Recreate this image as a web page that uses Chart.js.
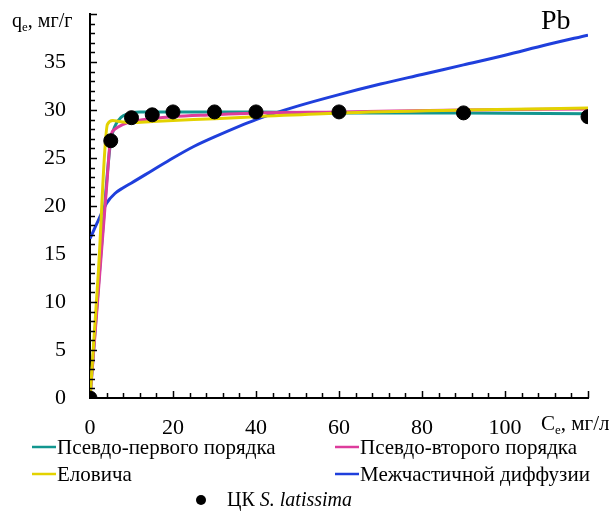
<!DOCTYPE html>
<html>
<head>
<meta charset="utf-8">
<script src="https://cdn.jsdelivr.net/npm/chart.js@4/dist/chart.umd.min.js"></script>
<style>
  html, body { margin: 0; padding: 0; background: #fff; }
  #wrap { width: 616px; height: 513px; }
</style>
</head>
<body>
<div id="wrap"><canvas id="chart" width="616" height="513"></canvas></div>
<script>
// experimental points (Ce, мг/л ; qe, мг/г)
const expC = [0, 5, 10, 15, 20, 30, 40, 60, 90, 120];
const expQ = [0, 26.8, 29.2, 29.5, 29.8, 29.8, 29.8, 29.8, 29.7, 29.3];

// fitted curves
const firstC = [0, 2, 4, 5, 6, 7, 8, 10, 12, 20, 40, 60, 90, 120];
const firstQ = [0, 11.5, 22.5, 26.8, 28.3, 29.0, 29.4, 29.7, 29.8, 29.8, 29.8, 29.7, 29.7, 29.6];

const secondC = [0, 2, 4, 5, 6, 8, 10, 15, 20, 30, 40, 60, 90, 120];
const secondQ = [0, 11.0, 22.0, 27.2, 28.0, 28.5, 28.8, 29.1, 29.3, 29.5, 29.7, 29.8, 30.0, 30.1];

const elovichC = [0, 2, 4.2, 5.5, 7, 10, 15, 20, 30, 40, 60, 90, 120];
const elovichQ = [0, 13.0, 28.5, 28.9, 28.8, 28.7, 28.8, 28.9, 29.1, 29.3, 29.7, 30.0, 30.2];

const diffC = [0, 2, 4, 6, 8, 10, 15, 20, 25, 30, 40, 50, 60, 70, 80, 90, 100, 110, 120];
const diffQ = [16.6, 18.5, 20.3, 21.3, 21.9, 22.4, 23.7, 25.0, 26.2, 27.2, 29.0, 30.4, 31.6, 32.7, 33.7, 34.7, 35.7, 36.8, 37.8];

const xTicks = [0, 20, 40, 60, 80, 100];
const yTicks = [0, 5, 10, 15, 20, 25, 30, 35];

const legendItems = [
    { text: 'Псевдо-первого порядка', color: '#12968f' },
    { text: 'Псевдо-второго порядка', color: '#dd3c9c' },
    { text: 'Еловича', color: '#e3d200' },
    { text: 'Межчастичной диффузии', color: '#1f3fdc' }
];

const serif = "'Liberation Serif', 'DejaVu Serif', serif";

function pts(xs, ys) {
    return xs.map((x, i) => ({ x: x, y: ys[i] }));
}

function lineSet(label, xs, ys, color, order) {
    return {
        label: label,
        type: 'line',
        data: pts(xs, ys),
        borderColor: color,
        backgroundColor: color,
        borderWidth: 3,
        pointRadius: 0,
        cubicInterpolationMode: 'monotone',
        fill: false,
        order: order
    };
}

// inward ticks, axis captions and custom legend
const decorPlugin = {
    id: 'decor',
    afterDraw(chart) {
        const ctx = chart.ctx;
        const xs = chart.scales.x;
        const ys = chart.scales.y;
        const area = chart.chartArea;
        ctx.save();
        ctx.strokeStyle = '#000';
        ctx.lineWidth = 1.5;
        for (let v = 4; v <= 120; v += 4) {
            const px = Math.round(xs.getPixelForValue(v)) + 0.5;
            const len = v % 20 === 0 ? 7 : 5;
            ctx.beginPath();
            ctx.moveTo(px, area.bottom);
            ctx.lineTo(px, area.bottom - len);
            ctx.stroke();
        }
        for (let v = 1; v <= 40; v += 1) {
            const py = Math.round(ys.getPixelForValue(v)) + 0.5;
            const len = v % 5 === 0 ? 7 : 5;
            ctx.beginPath();
            ctx.moveTo(area.left, py);
            ctx.lineTo(area.left + len, py);
            ctx.stroke();
        }

        ctx.fillStyle = '#000';
        ctx.textBaseline = 'alphabetic';
        ctx.textAlign = 'left';
        // y caption
        ctx.font = '20px ' + serif;
        ctx.fillText('q', 12, 27);
        let w = ctx.measureText('q').width;
        ctx.font = '13px ' + serif;
        ctx.fillText('e', 12 + w, 31);
        w += ctx.measureText('e').width;
        ctx.font = '20px ' + serif;
        ctx.fillText(', мг/г', 12 + w, 27);

        // x caption
        ctx.font = '21px ' + serif;
        ctx.fillText('C', 541, 430);
        w = ctx.measureText('C').width;
        ctx.font = '13px ' + serif;
        ctx.fillText('e', 541 + w, 434);
        w += ctx.measureText('e').width;
        ctx.font = '21px ' + serif;
        ctx.fillText(', мг/л', 541 + w, 430);

        // Pb
        ctx.font = '28px ' + serif;
        ctx.fillText('Pb', 541, 29);

        // legend
        ctx.font = '21px ' + serif;
        ctx.textBaseline = 'middle';
        const cols = [32, 335];
        const rows = [447, 474];
        legendItems.forEach((item, i) => {
            const x = cols[i % 2];
            const y = rows[Math.floor(i / 2)];
            ctx.strokeStyle = item.color;
            ctx.lineWidth = 2.5;
            ctx.beginPath();
            ctx.moveTo(x, y);
            ctx.lineTo(x + 24, y);
            ctx.stroke();
            ctx.fillStyle = '#000';
            ctx.fillText(item.text, x + 25, y + 1);
        });
        ctx.beginPath();
        ctx.arc(201, 500, 5, 0, Math.PI * 2);
        ctx.fill();
        ctx.font = '20px ' + serif;
        ctx.fillText('ЦК ', 227, 501);
        w = ctx.measureText('ЦК ').width;
        ctx.font = 'italic 20px ' + serif;
        ctx.fillText('S. latissima', 227 + w, 501);
        ctx.restore();
    }
};

const data = {
    datasets: [
        {
            label: 'ЦК S. latissima',
            type: 'scatter',
            data: pts(expC, expQ),
            backgroundColor: '#000',
            borderColor: '#000',
            pointRadius: 7,
            pointHoverRadius: 7,
            order: 0
        },
        lineSet('Еловича', elovichC, elovichQ, legendItems[2].color, 1),
        lineSet('Псевдо-второго порядка', secondC, secondQ, legendItems[1].color, 2),
        lineSet('Псевдо-первого порядка', firstC, firstQ, legendItems[0].color, 3),
        lineSet('Межчастичной диффузии', diffC, diffQ, legendItems[3].color, 4)
    ]
};

const options = {
    responsive: false,
    animation: false,
    events: [],
    layout: {
        padding: { left: 0, right: 28, top: 14, bottom: 0 }
    },
    plugins: {
        legend: { display: false },
        tooltip: { enabled: false }
    },
    scales: {
        x: {
            type: 'linear',
            min: 0,
            max: 120,
            afterFit: (scale) => {
                scale.height = 115;
                scale.paddingLeft = 0;
                scale.paddingRight = 0;
            },
            afterBuildTicks: (scale) => { scale.ticks = xTicks.map(v => ({ value: v })); },
            grid: { display: false },
            border: { display: true, color: '#000', width: 2 },
            ticks: {
                color: '#000',
                padding: 9,
                maxRotation: 0,
                font: { family: serif, size: 22 }
            }
        },
        y: {
            type: 'linear',
            min: 0,
            max: 40,
            afterFit: (scale) => {
                scale.width = 90;
                scale.paddingTop = 0;
                scale.paddingBottom = 0;
            },
            afterBuildTicks: (scale) => { scale.ticks = yTicks.map(v => ({ value: v })); },
            grid: { display: false },
            border: { display: true, color: '#000', width: 2 },
            ticks: {
                color: '#000',
                padding: 16,
                font: { family: serif, size: 22 }
            }
        }
    }
};

new Chart(document.getElementById('chart'), {
    type: 'scatter',
    data: data,
    options: options,
    plugins: [decorPlugin]
});
</script>
</body>
</html>
